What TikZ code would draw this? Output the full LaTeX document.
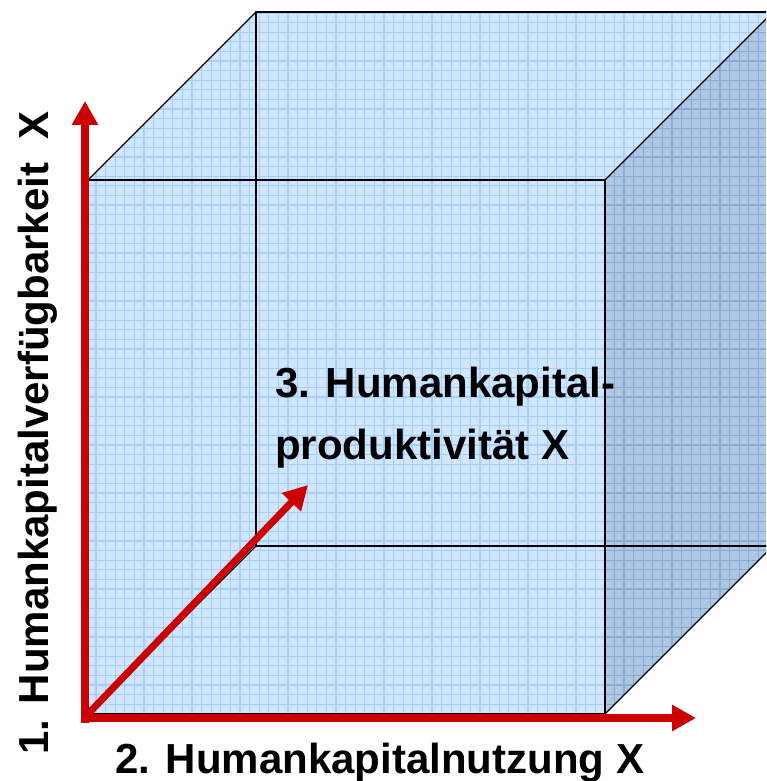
\documentclass[tikz,border=0pt]{standalone}
\usepackage{fontspec}
\setmainfont{Liberation Sans}
\usetikzlibrary{arrows.meta}
\definecolor{faceblue}{HTML}{D0E6FF}
\definecolor{facegrid}{HTML}{A6CEFF}
\definecolor{sideblue}{HTML}{B0C7E4}
\definecolor{sidegrid}{HTML}{88ACDA}
\definecolor{axisred}{HTML}{CC0000}
\begin{document}
\begin{tikzpicture}[x=1pt,y=1pt,
  edge/.style={line width=1.3pt, draw=black},
  axis/.style={line width=8pt, draw=axisred, -{Triangle[length=24pt,width=25pt]}},
  lbl/.style={font=\fontsize{42}{50}\selectfont\bfseries, inner sep=0pt, text=black},
  gridline/.style={line width=1.3pt},
]
\useasboundingbox (0,0) rectangle (766,781);

% cube corners: front face F, back face B
\coordinate (F1) at (88,67);
\coordinate (F2) at (605,67);
\coordinate (F3) at (605,601);
\coordinate (F4) at (88,601);
\coordinate (B1) at (256,235);
\coordinate (B2) at (773,235);
\coordinate (B3) at (773,769);
\coordinate (B4) at (256,769);

\begin{scope}
  \clip (0,0) rectangle (766,781);
  % front and top faces
  \fill[faceblue] (F1)--(F2)--(F3)--(B3)--(B4)--(F4)--cycle;
  \begin{scope}
    \clip (F1)--(F2)--(F3)--(B3)--(B4)--(F4)--cycle;
    \draw[facegrid, gridline, step=9.6] (80,60) grid (780,780);
  \end{scope}
  % shaded right face
  \fill[sideblue] (F2)--(B2)--(B3)--(F3)--cycle;
  \begin{scope}
    \clip (F2)--(B2)--(B3)--(F3)--cycle;
    \draw[sidegrid, gridline, step=9.6] (600,60) grid (780,780);
  \end{scope}
  % edges
  \draw[edge] (B1)--(B2)--(B3)--(B4)--cycle;
  \draw[edge] (F1)--(B1) (F2)--(B2) (F3)--(B3) (F4)--(B4);
  \draw[edge] (F1)--(F2)--(F3)--(F4)--cycle;
\end{scope}

% axes
\coordinate (O) at (85,58);
\coordinate (Oh) at (81,63);
\coordinate (Od) at (88,67);
\coordinate (Ytip) at (85,680);
\coordinate (Xtip) at (696,63);
\coordinate (Ztip) at (308,296);
\draw[axis] (O) -- (Ytip);
\draw[axis] (Oh) -- (Xtip);
\draw[axis, line width=7pt] (Od) -- (Ztip);

% labels
\node[lbl, rotate=90, anchor=base west] (ly) at (48,26)
  {1. Humankapitalverfügbarkeit\hspace{0.55em}X};
\node[lbl, anchor=base west] (lx) at (115,8) {2. Humankapitalnutzung X};
\node[lbl, anchor=base west] (lz1) at (275,383) {3. Humankapital-};
\node[lbl, anchor=base west] (lz2) at (275,321) {produktivität X};
\end{tikzpicture}
\end{document}
